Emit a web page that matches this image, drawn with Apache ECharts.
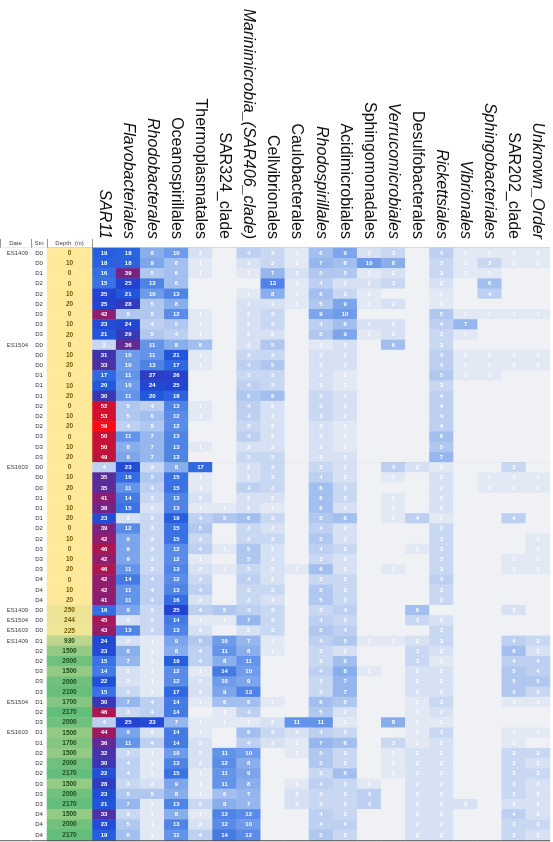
<!DOCTYPE html>
<html>
<head>
<meta charset="utf-8">
<script src="https://cdn.jsdelivr.net/npm/echarts@6/dist/echarts.min.js"></script>
<style>
  html, body { margin: 0; padding: 0; background: #fff; }
  #chart { width: 553px; height: 842px; }
</style>
</head>
<body>
<div id="chart"></div>
<script>
// taxonomic orders (columns)
const orders = ['SAR11', 'Flavobacteriales', 'Rhodobacterales', 'Oceanospirillales', 'Thermoplasmatales',
  'SAR324_clade', 'Marinimicrobia_(SAR406_clade)', 'Cellvibrionales', 'Caulobacterales', 'Rhodospirillales',
  'Acidimicrobiales', 'Sphingomonadales', 'Verrucomicrobiales', 'Desulfobacterales', 'Rickettsiales',
  'Vibrionales', 'Sphingobacteriales', 'SAR202_clade', 'Unknown_Order']
const italicOrders = ['SAR11', 'Flavobacteriales', 'Rhodobacterales', 'Marinimicrobia_(SAR406_clade)',
  'Rhodospirillales', 'Verrucomicrobiales', 'Rickettsiales', 'Vibrionales', 'Sphingobacteriales', 'Unknown_Order']

// row labels
const dateLabels = [
  'ES1409', '', '', '', '', '', '', '', '',
  'ES1504', '', '', '', '', '', '', '', '', '', '', '',
  'ES1603', '', '', '', '', '', '', '', '', '', '', '', '', '',
  'ES1409', 'ES1504', 'ES1603',
  'ES1409', '', '', '', '', '',
  'ES1504', '', '',
  'ES1603', '', '', '', '', '', '', '', '', '', ''
]
const stnLabels = [
  'D0', 'D0', 'D1', 'D2', 'D2', 'D2', 'D3', 'D3', 'D3',
  'D0', 'D0', 'D0', 'D1', 'D1', 'D1', 'D2', 'D2', 'D2', 'D3', 'D3', 'D3',
  'D0', 'D0', 'D0', 'D1', 'D1', 'D1', 'D2', 'D2', 'D3', 'D3', 'D3', 'D4', 'D4', 'D4',
  'D0', 'D0', 'D0',
  'D1', 'D2', 'D2', 'D3', 'D3', 'D3',
  'D1', 'D2', 'D3',
  'D1', 'D1', 'D2', 'D2', 'D2', 'D3', 'D3', 'D3', 'D4', 'D4', 'D4'
]
const depths = [
  0, 10, 0, 0, 10, 20, 0, 10, 20,
  0, 10, 20, 0, 10, 20, 0, 10, 20, 0, 10, 20,
  0, 10, 20, 0, 10, 20, 0, 10, 0, 10, 20, 0, 10, 20,
  250, 244, 225,
  930, 1500, 2000, 1500, 2000, 2100,
  1700, 2170, 2000,
  1500, 1700, 1500, 2000, 2170, 1500, 2000, 2170, 1500, 2000, 2170
]

// relative abundance (%) per sample, one row per sample, columns follow `orders`
const es1409Surface = [
  [19, 18, 8, 10, 2, 0, 4, 3, 1, 6, 9, 2, 3, 0, 4, 1, 1, 1, 1],
  [18, 18, 9, 6, 1, 0, 2, 3, 1, 7, 6, 10, 8, 0, 3, 1, 3, 1, 1],
  [16, 39, 5, 6, 1, 0, 1, 7, 2, 5, 5, 1, 2, 0, 3, 1, 1, 0, 0],
  [15, 25, 13, 6, 0, 0, 0, 13, 1, 4, 2, 2, 3, 0, 2, 0, 6, 0, 0],
  [25, 21, 10, 13, 0, 0, 1, 8, 1, 6, 3, 1, 0, 0, 1, 0, 4, 0, 0],
  [25, 28, 5, 8, 0, 0, 2, 2, 1, 5, 9, 1, 2, 0, 1, 0, 0, 0, 0],
  [42, 5, 5, 12, 1, 0, 2, 3, 0, 9, 10, 0, 0, 0, 5, 1, 1, 1, 1],
  [23, 24, 4, 5, 1, 0, 2, 3, 0, 4, 6, 2, 2, 0, 4, 7, 0, 0, 0],
  [21, 29, 5, 4, 1, 0, 2, 2, 0, 5, 9, 1, 2, 0, 3, 1, 0, 0, 0]
]
const es1504Surface = [
  [3, 36, 11, 8, 6, 0, 2, 5, 0, 1, 2, 0, 6, 0, 3, 0, 0, 0, 0],
  [31, 10, 11, 21, 1, 0, 3, 3, 0, 2, 2, 0, 0, 0, 4, 1, 1, 1, 1],
  [33, 10, 13, 17, 1, 0, 4, 5, 0, 2, 2, 0, 0, 0, 4, 1, 1, 1, 1],
  [17, 11, 27, 26, 0, 0, 3, 3, 0, 2, 1, 0, 0, 0, 5, 1, 1, 0, 0],
  [20, 10, 24, 25, 0, 0, 4, 3, 0, 2, 1, 0, 0, 0, 3, 0, 0, 0, 0],
  [30, 11, 20, 18, 0, 0, 5, 6, 0, 3, 2, 0, 0, 0, 4, 0, 0, 0, 0],
  [52, 5, 4, 13, 1, 0, 4, 2, 0, 3, 2, 0, 0, 0, 4, 0, 0, 0, 0],
  [53, 5, 6, 12, 1, 0, 4, 2, 0, 3, 2, 0, 0, 0, 4, 0, 0, 0, 0],
  [59, 4, 5, 12, 0, 0, 3, 2, 0, 2, 1, 0, 0, 0, 4, 0, 0, 0, 0],
  [50, 11, 7, 13, 0, 0, 4, 2, 0, 2, 1, 0, 0, 0, 6, 0, 0, 0, 0],
  [50, 8, 7, 13, 1, 0, 2, 2, 0, 2, 1, 0, 0, 0, 5, 0, 0, 0, 0],
  [49, 9, 7, 13, 0, 0, 3, 3, 0, 2, 2, 0, 0, 0, 7, 0, 0, 0, 0]
]
const es1603Surface = [
  [4, 23, 3, 8, 17, 0, 2, 3, 0, 3, 2, 0, 4, 2, 1, 0, 0, 3, 0],
  [35, 16, 5, 15, 1, 0, 2, 3, 0, 4, 2, 0, 1, 0, 2, 0, 1, 1, 1],
  [35, 11, 4, 15, 1, 0, 4, 3, 0, 6, 3, 0, 0, 0, 2, 0, 1, 1, 1],
  [41, 14, 3, 13, 2, 0, 2, 2, 0, 6, 3, 0, 1, 0, 2, 0, 0, 0, 0],
  [38, 15, 2, 13, 1, 1, 2, 1, 0, 6, 2, 0, 1, 0, 2, 0, 0, 0, 0],
  [23, 2, 3, 19, 4, 5, 6, 3, 0, 5, 6, 0, 1, 4, 1, 0, 0, 4, 0],
  [39, 12, 3, 15, 5, 0, 3, 2, 0, 4, 2, 0, 0, 0, 3, 0, 0, 0, 0],
  [42, 9, 3, 15, 3, 0, 3, 3, 0, 5, 2, 0, 0, 0, 3, 0, 0, 0, 1],
  [46, 9, 3, 12, 4, 1, 5, 2, 0, 4, 3, 0, 0, 1, 3, 0, 0, 0, 1],
  [42, 9, 3, 12, 1, 0, 5, 2, 0, 3, 2, 0, 0, 0, 3, 0, 0, 1, 1],
  [46, 11, 3, 13, 2, 1, 3, 2, 1, 6, 2, 0, 1, 0, 3, 0, 0, 1, 1],
  [42, 14, 4, 12, 3, 0, 4, 2, 0, 3, 3, 0, 0, 0, 4, 0, 0, 0, 0],
  [42, 11, 4, 13, 4, 0, 3, 3, 0, 5, 3, 0, 0, 0, 3, 0, 0, 0, 0],
  [41, 11, 4, 16, 2, 0, 3, 2, 0, 5, 3, 0, 0, 0, 3, 0, 0, 0, 0]
]
const deepD0 = [
  [16, 9, 3, 25, 4, 5, 4, 3, 0, 3, 4, 0, 0, 6, 0, 0, 0, 2, 0],
  [45, 2, 3, 14, 1, 1, 7, 3, 0, 4, 3, 0, 0, 3, 2, 0, 0, 0, 0],
  [43, 13, 3, 13, 2, 0, 2, 3, 0, 5, 4, 0, 0, 0, 3, 0, 0, 0, 0]
]
const es1409Deep = [
  [24, 2, 1, 9, 5, 10, 7, 1, 0, 4, 5, 1, 1, 2, 3, 0, 0, 4, 3],
  [23, 8, 1, 8, 4, 11, 8, 1, 0, 3, 2, 0, 0, 3, 2, 0, 0, 6, 2],
  [15, 7, 1, 19, 4, 8, 11, 0, 0, 3, 6, 0, 0, 3, 1, 0, 0, 4, 4],
  [14, 2, 1, 12, 1, 14, 10, 0, 0, 4, 8, 1, 0, 2, 2, 0, 0, 5, 4],
  [22, 2, 1, 12, 2, 10, 9, 0, 0, 3, 7, 0, 0, 2, 2, 0, 0, 5, 5],
  [15, 3, 1, 17, 2, 9, 13, 0, 0, 3, 7, 0, 0, 2, 2, 0, 0, 5, 3]
]
const es1504Deep = [
  [30, 7, 4, 14, 1, 6, 6, 1, 0, 6, 5, 0, 0, 1, 3, 0, 0, 1, 1],
  [46, 3, 4, 14, 0, 1, 4, 0, 0, 5, 2, 0, 0, 1, 2, 0, 0, 0, 0],
  [4, 25, 23, 7, 1, 1, 1, 2, 11, 11, 1, 0, 8, 1, 1, 0, 0, 0, 0]
]
const es1603Deep = [
  [44, 9, 2, 14, 1, 0, 6, 3, 2, 4, 3, 0, 0, 1, 3, 0, 0, 1, 1],
  [36, 11, 4, 14, 2, 0, 4, 2, 1, 7, 6, 0, 3, 1, 2, 0, 0, 1, 0],
  [32, 3, 1, 10, 2, 11, 10, 0, 1, 5, 3, 0, 1, 2, 2, 0, 0, 3, 3],
  [30, 4, 1, 13, 2, 12, 8, 0, 0, 5, 3, 0, 1, 2, 2, 0, 0, 3, 2],
  [22, 4, 1, 15, 1, 11, 9, 0, 0, 3, 6, 0, 1, 2, 2, 0, 0, 3, 3],
  [28, 3, 2, 9, 1, 11, 8, 0, 1, 4, 3, 1, 0, 2, 2, 0, 0, 3, 2],
  [23, 5, 5, 8, 1, 6, 7, 0, 2, 3, 3, 4, 0, 2, 2, 0, 0, 3, 2],
  [21, 7, 1, 13, 3, 8, 7, 0, 2, 3, 3, 4, 0, 2, 2, 2, 0, 2, 2],
  [33, 3, 1, 8, 1, 13, 12, 0, 0, 4, 3, 0, 0, 2, 2, 0, 0, 4, 2],
  [23, 5, 1, 13, 2, 12, 10, 0, 0, 4, 4, 0, 0, 2, 2, 0, 0, 3, 3],
  [19, 6, 1, 11, 4, 14, 12, 0, 0, 5, 3, 0, 0, 2, 2, 0, 0, 3, 2]
]

const sections = [es1409Surface, es1504Surface, es1603Surface, deepD0, es1409Deep, es1504Deep, es1603Deep]
const rows = [].concat(...sections)
const rowIds = rows.map((r, i) => String(i))

// first row index of every block -> dark separator lines
const sectionStarts = [0]
sections.forEach(s => sectionStarts.push(sectionStarts[sectionStarts.length - 1] + s.length))

const heatData = []
rows.forEach((r, i) => {
  r.forEach((v, j) => heatData.push([j, i, v]))
})

const TOP = 248
const BOTTOM = 2
const sepLine = {
  show: true,
  interval: (idx) => sectionStarts.includes(idx),
  lineStyle: { color: '#4a4a4a', width: 1.3 }
}

function rowAxis(idx, lineColor) {
  return {
    type: 'category',
    gridIndex: idx,
    data: rowIds,
    inverse: true,
    axisLabel: { show: false },
    axisTick: { show: false },
    axisLine: { show: !!lineColor, lineStyle: { color: lineColor || '#000', width: 1 } },
    splitLine: sepLine
  }
}
function headAxis(idx, name) {
  return {
    type: 'category',
    gridIndex: idx,
    position: 'top',
    data: [name],
    axisLabel: { fontSize: 6, color: '#444', margin: 2, fontFamily: 'Liberation Sans' },
    axisTick: { show: true, length: 9, lineStyle: { color: '#999' } },
    axisLine: { show: false },
    splitLine: { show: false }
  }
}

const chart = echarts.init(document.getElementById('chart'))
chart.setOption({
  animation: false,
  grid: [
    { left: 92, right: 3, top: TOP, bottom: BOTTOM },
    { left: 0, width: 31, top: TOP, bottom: BOTTOM },
    { left: 31, width: 16, top: TOP, bottom: BOTTOM },
    { left: 47, width: 45, top: TOP, bottom: BOTTOM }
  ],
  xAxis: [
    {
      type: 'category',
      gridIndex: 0,
      position: 'top',
      data: orders.map(o => ({
        value: o,
        textStyle: { fontStyle: italicOrders.includes(o) ? 'italic' : 'normal' }
      })),
      axisLabel: {
        rotate: 90,
        interval: 0,
        fontSize: 16,
        color: '#111',
        margin: 9,
        fontFamily: 'Liberation Sans'
      },
      axisTick: { show: false },
      axisLine: { show: false },
      splitLine: { show: false }
    },
    headAxis(1, 'Date'),
    headAxis(2, 'Stn'),
    headAxis(3, 'Depth  (m)')
  ],
  yAxis: [
    rowAxis(0, '#333'),
    rowAxis(1, null),
    rowAxis(2, '#bbb'),
    rowAxis(3, '#333')
  ],
  visualMap: [
    {
      show: false,
      seriesIndex: 0,
      min: 0,
      max: 60,
      inRange: {
        color: ['#eff1f5', '#b0c8f0', '#6f9cea', '#3a72e4', '#2159dc', '#2244d0', '#3a36b4',
          '#5a2c98', '#82207a', '#a4185a', '#c41238', '#e00e25', '#ff0a10']
      }
    },
    {
      show: false,
      seriesIndex: [1, 2],
      min: 0,
      max: 1,
      inRange: { color: ['#ffffff', '#ffffff'] }
    },
    {
      show: false,
      seriesIndex: 3,
      min: 0,
      max: 2170,
      inRange: { color: ['#ffe99a', '#63be7b'] }
    }
  ],
  series: [
    {
      type: 'heatmap',
      xAxisIndex: 0,
      yAxisIndex: 0,
      data: heatData,
      label: {
        show: true,
        formatter: p => (p.value[2] > 0 ? String(p.value[2]) : ''),
        color: '#fff',
        fontSize: 6,
        fontWeight: 'bold',
        fontFamily: 'Liberation Sans'
      }
    },
    {
      type: 'heatmap',
      xAxisIndex: 1,
      yAxisIndex: 1,
      data: dateLabels.map((d, i) => [0, i, 0]),
      label: {
        show: true,
        position: 'insideLeft',
        offset: [2, 0],
        formatter: p => dateLabels[p.value[1]],
        color: '#444',
        fontSize: 6,
        fontFamily: 'Liberation Sans'
      }
    },
    {
      type: 'heatmap',
      xAxisIndex: 2,
      yAxisIndex: 2,
      data: stnLabels.map((s, i) => [0, i, 0]),
      label: {
        show: true,
        formatter: p => stnLabels[p.value[1]],
        color: '#333',
        fontSize: 6,
        fontFamily: 'Liberation Sans'
      }
    },
    {
      type: 'heatmap',
      xAxisIndex: 3,
      yAxisIndex: 3,
      data: depths.map((d, i) => ({
        value: [0, i, d],
        label: { color: d < 500 ? '#7a5a00' : '#1f4a1c' }
      })),
      label: {
        show: true,
        formatter: p => String(p.value[2]),
        fontSize: 6.5,
        fontWeight: 'bold',
        fontFamily: 'Liberation Sans'
      }
    }
  ]
})
</script>
</body>
</html>
